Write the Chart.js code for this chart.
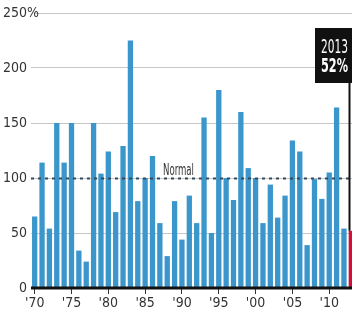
<!DOCTYPE html>
<html>
<head>
<meta charset="utf-8">
<script src="https://cdn.jsdelivr.net/npm/chart.js@4"></script>
<style>
  html, body { margin: 0; padding: 0; background: #fff; overflow: hidden; }
  #wrap { width: 355px; height: 311px; }
</style>
</head>
<body>
<div id="wrap"><canvas id="rain" width="355" height="311"></canvas></div>
<script>
const years = [
  1970, 1971, 1972, 1973, 1974, 1975, 1976, 1977, 1978, 1979,
  1980, 1981, 1982, 1983, 1984, 1985, 1986, 1987, 1988, 1989,
  1990, 1991, 1992, 1993, 1994, 1995, 1996, 1997, 1998, 1999,
  2000, 2001, 2002, 2003, 2004, 2005, 2006, 2007, 2008, 2009,
  2010, 2011, 2012, 2013
];
// percent of normal
const pctOfNormal = [
  65, 114, 54, 150, 114, 150, 34, 24, 150, 104,
  124, 69, 129, 225, 79, 100, 120, 59, 29, 79,
  44, 84, 59, 155, 50, 180, 100, 80, 160, 109,
  100, 59, 94, 64, 84, 134, 124, 39, 99, 81,
  105, 164, 54, 52
];
const yTicks = [0, 50, 100, 150, 200, 250];
const normalLevel = 100;
const highlightYear = 2013;
const highlightText = ["2013", "52%"];

const FONT = "'Liberation Sans Narrow', 'DejaVu Sans Condensed', 'Roboto', sans-serif";
const BLUE = "#3a96cb";
const RED = "#d0103a";

function fitText(ctx, txt, x, y, width) {
  const w = ctx.measureText(txt).width;
  ctx.save();
  ctx.translate(x, y);
  ctx.scale(Math.min(1, width / w), 1);
  ctx.fillText(txt, 0, 0);
  ctx.restore();
}

const extras = {
  id: "extras",
  afterDatasetsDraw(chart) {
    const { ctx, chartArea } = chart;
    const y = chart.scales.y;
    const yn = Math.round(y.getPixelForValue(normalLevel)) + 0.5;
    const y0 = y.getPixelForValue(0);

    // normal line
    ctx.save();
    ctx.strokeStyle = "#34495c";
    ctx.lineWidth = 2;
    ctx.setLineDash([3, 4]);
    ctx.beginPath();
    ctx.moveTo(chartArea.left, yn);
    ctx.lineTo(chartArea.right, yn);
    ctx.stroke();
    ctx.restore();

    ctx.save();
    ctx.fillStyle = "#333";
    ctx.font = "15px " + FONT;
    ctx.textBaseline = "alphabetic";
    fitText(ctx, "Normal", 163, yn - 4, 31);
    ctx.restore();

    // baseline
    ctx.save();
    ctx.fillStyle = "#111";
    ctx.fillRect(chartArea.left, y0 - 1.5, chartArea.right - chartArea.left, 3);
    ctx.restore();
  },
  afterDraw(chart) {
    const { ctx } = chart;
    const y = chart.scales.y;

    // % after the top tick
    const yt = y.getPixelForValue(250);
    ctx.save();
    ctx.fillStyle = "#fff";
    ctx.fillRect(27, yt - 2, 8, 4);
    ctx.fillStyle = "#333";
    ctx.font = "14px " + FONT;
    ctx.textBaseline = "middle";
    ctx.fillText("%", 27, yt);
    ctx.restore();

    // callout for the last year
    const bar = chart.getDatasetMeta(0).data[years.indexOf(highlightYear)];
    ctx.save();
    ctx.fillStyle = "#111";
    ctx.fillRect(315, 28, 40, 55);
    ctx.strokeStyle = "#111";
    ctx.lineWidth = 2;
    ctx.beginPath();
    ctx.moveTo(349.5, 83);
    ctx.lineTo(349.5, bar.y);
    ctx.stroke();
    ctx.fillStyle = "#fff";
    ctx.textBaseline = "alphabetic";
    ctx.font = "19px " + FONT;
    fitText(ctx, highlightText[0], 321, 53, 27);
    ctx.font = "bold 19px " + FONT;
    fitText(ctx, highlightText[1], 321, 72, 27);
    ctx.restore();
  }
};

new Chart("rain", {
  type: "bar",
  data: {
    labels: years,
    datasets: [
      {
        data: pctOfNormal,
        backgroundColor: years.map((yr) => (yr === highlightYear ? RED : BLUE)),
        categoryPercentage: 1,
        barPercentage: 0.72,
      },
    ],
  },
  options: {
    responsive: false,
    animation: false,
    layout: { padding: { top: 13, right: 0, left: 0, bottom: 0 } },
    plugins: {
      legend: { display: false },
      tooltip: { enabled: false },
    },
    scales: {
      x: {
        grid: {
          display: true,
          drawOnChartArea: false,
          offset: false,
          tickLength: 6,
          color: (c) => (years[c.index] % 5 === 0 ? "#333" : "rgba(0,0,0,0)"),
        },
        border: { display: false },
        ticks: {
          autoSkip: false,
          maxRotation: 0,
          padding: 1,
          color: "#333",
          font: { family: FONT, size: 14 },
          callback: function (v, i) {
            const yr = years[i];
            return yr % 5 === 0 ? "'" + String(yr).slice(2) : "";
          },
        },
        afterFit: (s) => { s.height = 23; },
      },
      y: {
        min: 0,
        max: 250,
        afterBuildTicks: (s) => { s.ticks = yTicks.map((v) => ({ value: v })); },
        grid: {
          drawTicks: false,
          color: (c) => (c.tick.value === 0 ? "rgba(0,0,0,0)" : "#c6c6c6"),
          lineWidth: 1,
        },
        border: { display: false },
        ticks: {
          padding: 4,
          color: "#333",
          font: { family: FONT, size: 14 },
        },
        afterFit: (s) => { s.width = 31; },
      },
    },
  },
  plugins: [extras],
});
</script>
</body>
</html>
